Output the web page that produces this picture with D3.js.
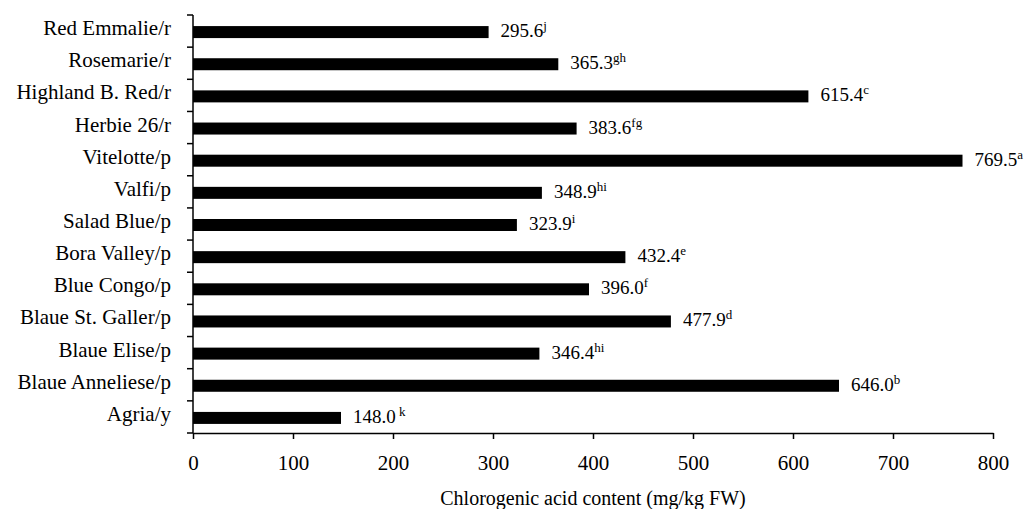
<!DOCTYPE html>
<html>
<head>
<meta charset="utf-8">
<script src="https://cdn.jsdelivr.net/npm/d3@7"></script>
<style>
  body { margin: 0; background: #fff; }
  text { font-family: "Liberation Serif", "DejaVu Serif", serif; fill: #000; }
</style>
</head>
<body>
<div id="chart"></div>
<script>
// Chart data
const varieties = ['Red Emmalie/r', 'Rosemarie/r', 'Highland B. Red/r', 'Herbie 26/r', 'Vitelotte/p',
  'Valfi/p', 'Salad Blue/p', 'Bora Valley/p', 'Blue Congo/p', 'Blaue St. Galler/p',
  'Blaue Elise/p', 'Blaue Anneliese/p', 'Agria/y']
const values = [295.6, 365.3, 615.4, 383.6, 769.5, 348.9, 323.9, 432.4, 396.0, 477.9, 346.4, 646.0, 148.0]
const letters = ['j', 'gh', 'c', 'fg', 'a', 'hi', 'i', 'e', 'f', 'd', 'hi', 'b', ' k']
const xTicks = [0, 100, 200, 300, 400, 500, 600, 700, 800]
const xTitle = 'Chlorogenic acid content (mg/kg FW)'

var width = 1029
var height = 509
var plot = { left: 193, right: 993, top: 15, bottom: 433 }

const dataset = varieties.map((name, i) => ({ name: name, value: values[i], letter: letters[i] }))

const xScale = d3.scaleLinear()
  .domain([0, 800])
  .range([plot.left, plot.right])

const yScale = d3.scaleBand()
  .domain(varieties)
  .range([plot.top, plot.bottom])

var svg = d3.select('#chart')
  .append('svg')
  .attr('width', width)
  .attr('height', height)

// bars
const barH = 12
svg.selectAll('rect.bar')
  .data(dataset)
  .enter()
  .append('rect')
  .attr('class', 'bar')
  .attr('x', xScale(0))
  .attr('y', d => yScale(d.name) + yScale.bandwidth() / 2 - barH / 2 + 1)
  .attr('width', d => xScale(d.value) - xScale(0))
  .attr('height', barH)
  .attr('fill', '#000')

// value labels with superscript letters
const vals = svg.selectAll('text.val')
  .data(dataset)
  .enter()
  .append('text')
  .attr('class', 'val')
  .attr('x', d => xScale(d.value) + 12)
  .attr('y', d => yScale(d.name) + yScale.bandwidth() / 2 + 6)
  .style('font-size', '19px')
  .style('white-space', 'pre')
vals.append('tspan').text(d => d.value.toFixed(1))
vals.append('tspan')
  .text(d => d.letter)
  .attr('dy', -7)
  .style('font-size', '13px')

// category labels
svg.selectAll('text.cat')
  .data(dataset)
  .enter()
  .append('text')
  .attr('class', 'cat')
  .attr('x', plot.left - 22)
  .attr('y', d => yScale(d.name) + yScale.bandwidth() / 2 + 4)
  .attr('text-anchor', 'end')
  .style('font-size', '21px')
  .text(d => d.name)

// y axis with ticks at band boundaries
const bounds = varieties.map(v => yScale(v)).concat([plot.bottom])
svg.append('line')
  .attr('x1', plot.left).attr('x2', plot.left)
  .attr('y1', plot.top).attr('y2', plot.bottom)
  .attr('stroke', '#000').attr('stroke-width', 1.5)
svg.selectAll('line.ytick')
  .data(bounds)
  .enter()
  .append('line')
  .attr('class', 'ytick')
  .attr('x1', plot.left - 6).attr('x2', plot.left)
  .attr('y1', d => d).attr('y2', d => d)
  .attr('stroke', '#000').attr('stroke-width', 1.5)

// x axis
const xAxis = svg.append('g')
  .attr('transform', `translate(0,${plot.bottom})`)
  .call(d3.axisBottom(xScale).tickValues(xTicks).tickSize(6).tickSizeOuter(0).tickPadding(16).tickFormat(d3.format('d')))
xAxis.select('.domain').attr('stroke-width', 1.5)
xAxis.selectAll('.tick line').attr('stroke-width', 1.5)
xAxis.selectAll('.tick text')
  .style('font-size', '21px')
  .style('font-family', '"Liberation Serif", "DejaVu Serif", serif')

svg.append('text')
  .attr('x', (plot.left + plot.right) / 2)
  .attr('y', 505)
  .attr('text-anchor', 'middle')
  .style('font-size', '20px')
  .text(xTitle)
</script>
</body>
</html>
